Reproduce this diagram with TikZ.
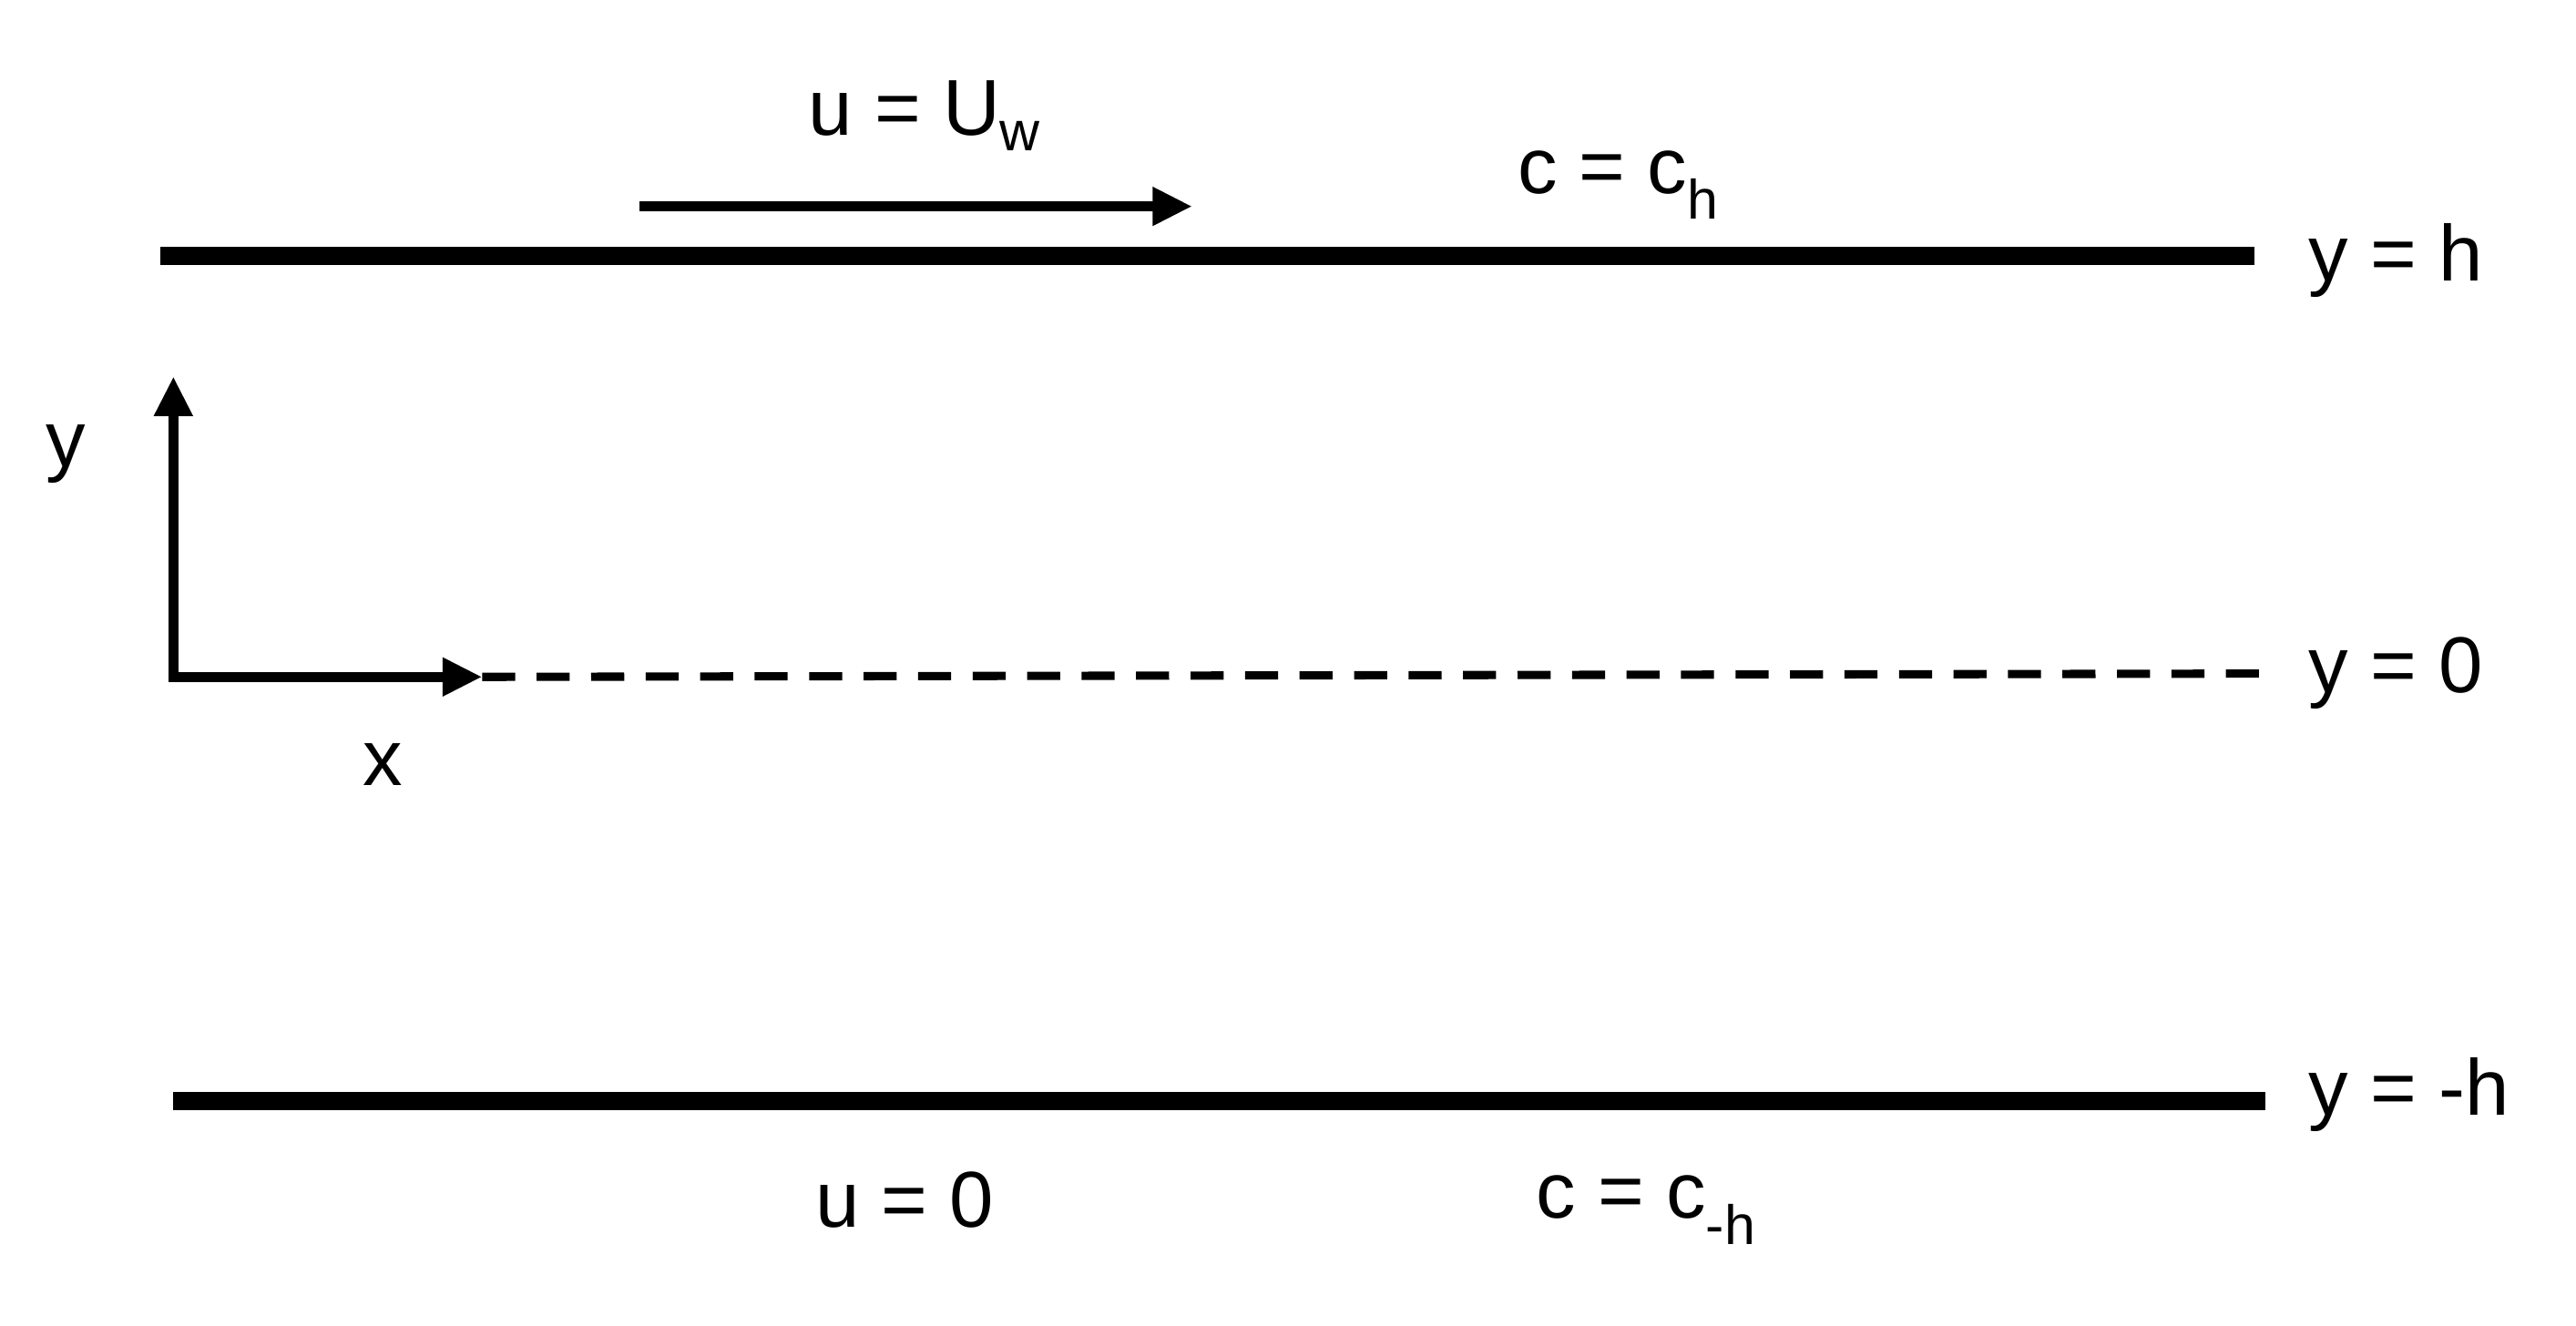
\documentclass[tikz,border=0pt]{standalone}
\usepackage{fontspec}
\setmainfont{Liberation Sans}
\usetikzlibrary{arrows.meta}
\begin{document}
\begin{tikzpicture}[x=1pt,y=-1pt,
  wall/.style={line width=11pt},
  arr/.style={line width=6pt,-{Triangle[length=24pt,width=22pt]}},
  lbl/.style={font=\fontsize{48}{56}\selectfont,inner sep=0pt}]
\useasboundingbox (0,0) rectangle (1560,803);
\coordinate (t1) at (97,155); \coordinate (t2) at (1365,155);
\coordinate (b1) at (105,667); \coordinate (b2) at (1372,667);
\coordinate (o) at (105,410); \coordinate (yt) at (105,228); \coordinate (xt) at (292,410);
\coordinate (d2) at (1370,408);
\coordinate (u1) at (387,125); \coordinate (u2) at (722,125);
\draw[wall] (t1) -- (t2);
\draw[wall] (b1) -- (b2);
\draw[line width=5pt,dash pattern=on 20pt off 13pt] (xt) -- (d2);
\draw[arr] (o) -- (yt);
\draw[arr] ([xshift=-3pt]o) -- (xt);
\draw[arr] (u1) -- (u2);
\node[lbl] (lu) at (560,70) {u = U\textsubscript{w}};
\node[lbl] (lc) at (980,112) {c = c\textsubscript{h}};
\node[lbl,anchor=west] (lh) at (1398,158) {y = h};
\node[lbl] (ly) at (40,275) {y};
\node[lbl] (lx) at (232,463) {x};
\node[lbl,anchor=west] (l0) at (1398,408) {y = 0};
\node[lbl,anchor=west] (lmh) at (1398,663) {y = -h};
\node[lbl] (lu0) at (548,727) {u = 0};
\node[lbl] (lcm) at (997,733) {c = c\textsubscript{-h}};
\end{tikzpicture}
\end{document}
